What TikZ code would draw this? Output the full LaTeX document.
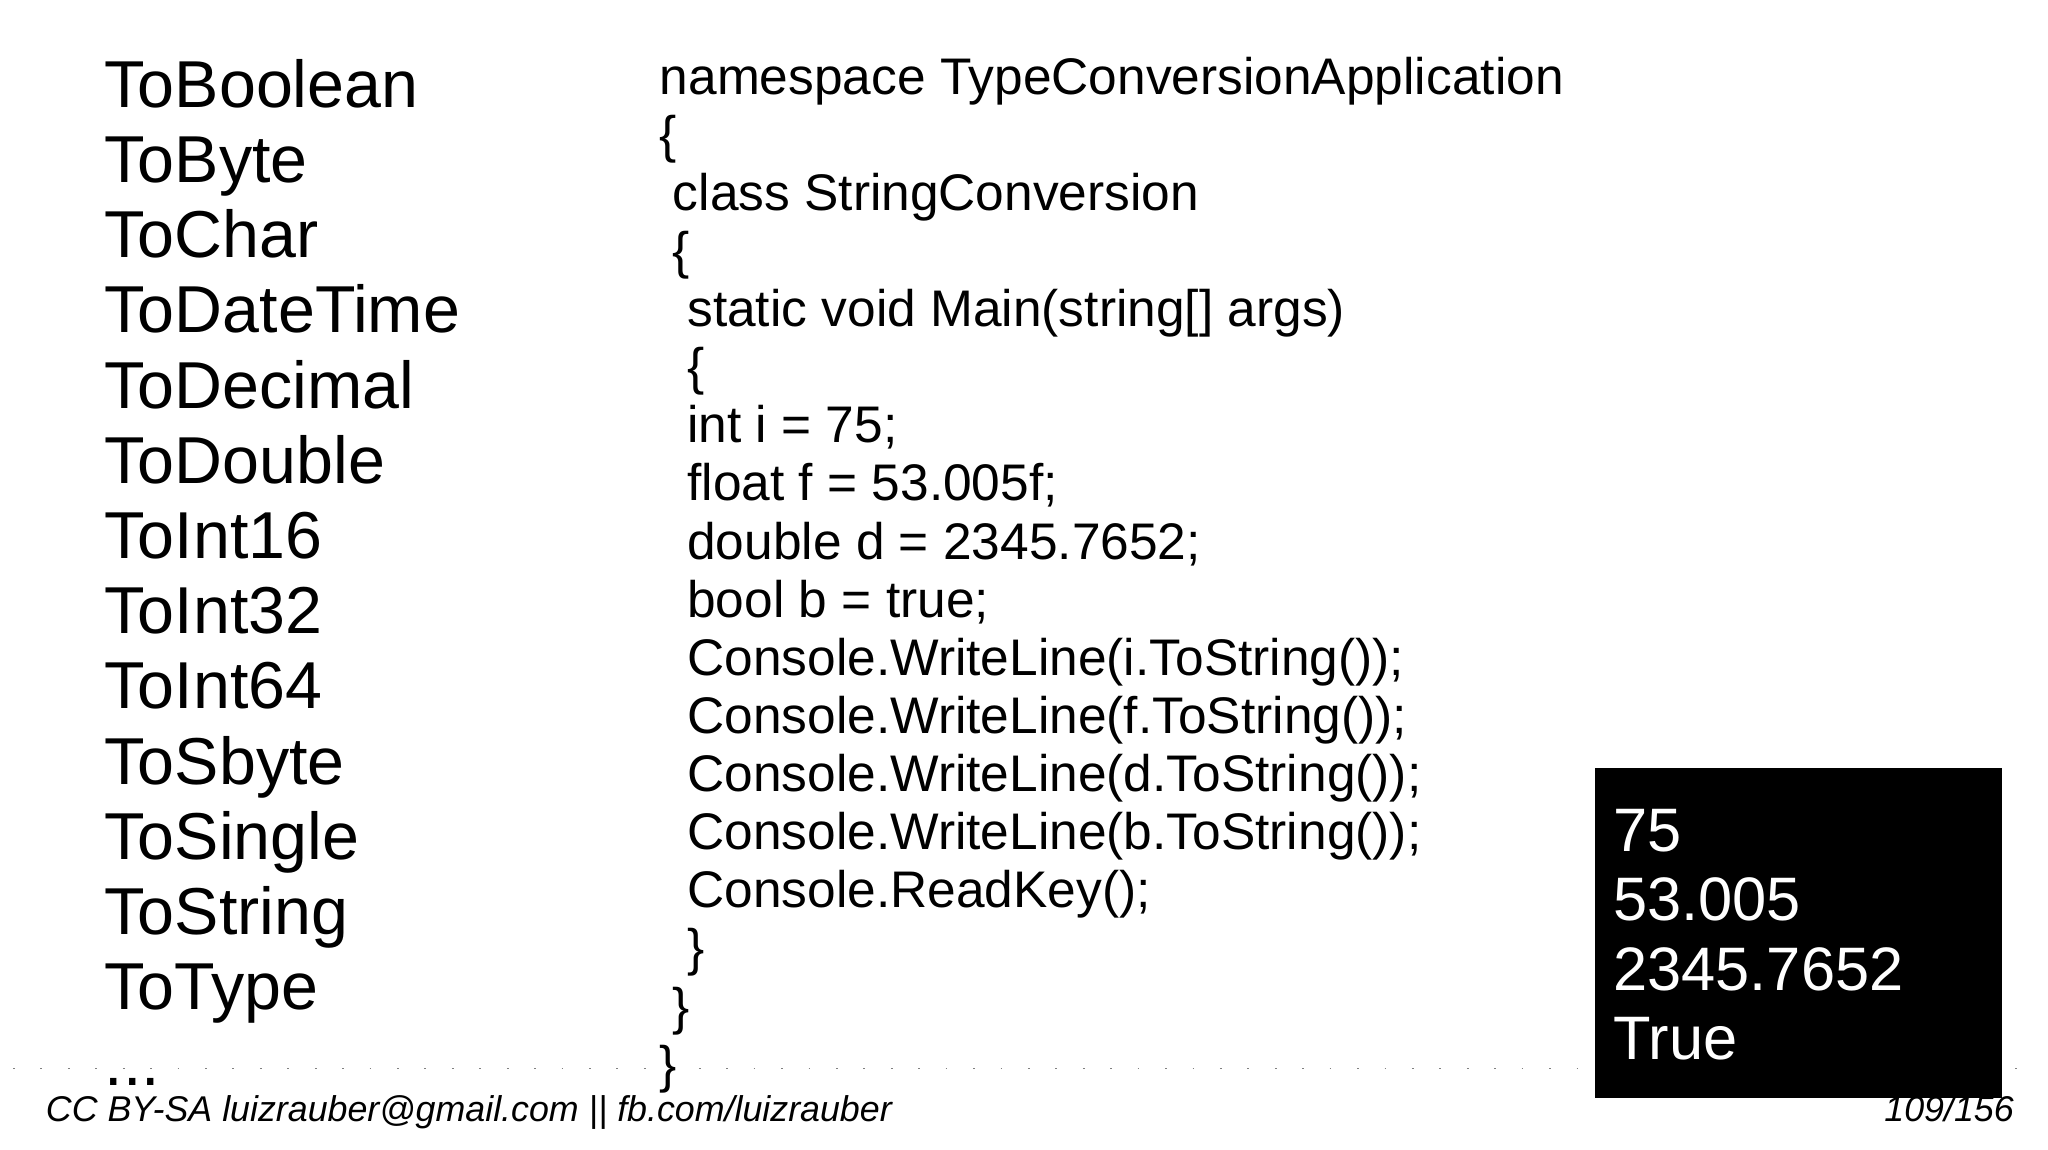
\documentclass[tikz,border=0pt]{standalone}
\usepackage{fontspec}
\setmainfont{Liberation Sans}
\begin{document}
\begin{tikzpicture}[x=1pt,y=-1pt,
  lst/.style={anchor=base west,inner sep=0pt,font=\fontsize{50.8}{50.8}\selectfont},
  code/.style={anchor=base west,inner sep=0pt,font=\fontsize{39.4}{39.4}\selectfont},
  outp/.style={anchor=base west,inner sep=0pt,text=white,font=\fontsize{47}{47}\selectfont},
  foot/.style={anchor=base west,inner sep=0pt,font=\itshape\fontsize{27.4}{27.4}\selectfont}]
\useasboundingbox[fill=white] (0,0) rectangle (1568,880);
\draw[gray,line width=1.4pt,dash pattern=on 1.4pt off 19.6pt] (10,818) -- (1560,818);
\foreach \t [count=\i from 0] in {ToBoolean,ToByte,ToChar,ToDateTime,ToDecimal,ToDouble,ToInt16,ToInt32,ToInt64,ToSbyte,ToSingle,ToString,ToType}
  \node[lst] (l\i) at (80,{82+\i*57.6}) {\t};
\node[lst] (l13) at (80,830.8) {{.}{.}{.}};
\node[code] (c0) at (505,72) {namespace TypeConversionApplication};
\node[code] (c1) at (505,116.5) {\{};
\node[code] (c2) at (515,161) {class StringConversion};
\node[code] (c3) at (515,205.5) {\{};
\node[code] (c4) at (526,250) {static void Main(string[] args)};
\node[code] (c5) at (526,294.5) {\{};
\node[code] (c6) at (526,339) {int i = 75;};
\node[code] (c7) at (526,383.5) {float f = 53.005f;};
\node[code] (c8) at (526,428) {double d = 2345.7652;};
\node[code] (c9) at (526,472.5) {bool b = true;};
\node[code] (c10) at (526,517) {Console.WriteLine(i.ToString());};
\node[code] (c11) at (526,561.5) {Console.WriteLine(f.ToString());};
\node[code] (c12) at (526,606) {Console.WriteLine(d.ToString());};
\node[code] (c13) at (526,650.5) {Console.WriteLine(b.ToString());};
\node[code] (c14) at (526,695) {Console.ReadKey();};
\node[code] (c15) at (526,739.5) {\}};
\node[code] (c16) at (515,784) {\}};
\node[code] (c17) at (505,828.5) {\}};
\fill[black] (1221,588) rectangle (1533,841);
\node[outp] (o0) at (1235,652) {75};
\node[outp] (o1) at (1235,705) {53.005};
\node[outp] (o2) at (1235,758) {2345.7652};
\node[outp] (o3) at (1235,811) {True};
\node[foot] (f1) at (35,859) {CC BY-SA luizrauber@gmail.com || fb.com/luizrauber};
\node[foot,anchor=base east] (f2) at (1542,859) {109/156};
\end{tikzpicture}
\end{document}
